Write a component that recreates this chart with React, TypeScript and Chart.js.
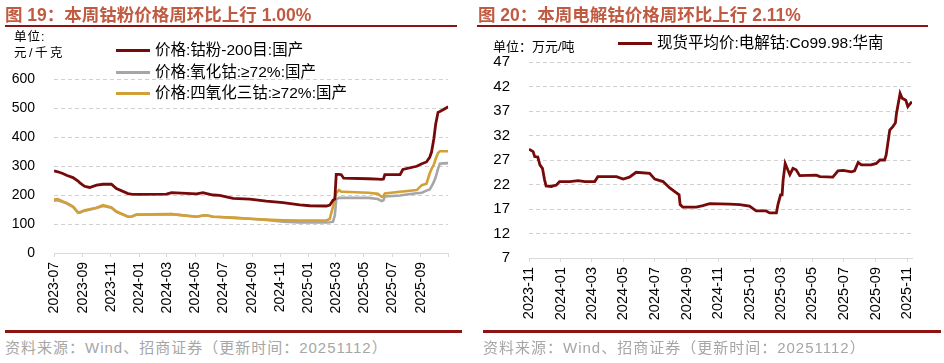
import React, { useEffect, useRef } from "react";
import { Chart, registerables } from "chart.js";
Chart.register(...registerables);

// ---------- Data: left chart (元/千克) ----------
const leftDates = [
  "2023-07-01","2023-07-09","2023-07-20","2023-07-28","2023-08-11","2023-08-22","2023-08-26","2023-09-05","2023-09-16","2023-10-01",
  "2023-10-15","2023-11-02","2023-11-13","2023-12-08","2023-12-15","2023-12-26","2024-02-29","2024-03-11","2024-05-04","2024-05-18",
  "2024-05-26","2024-06-09","2024-06-23","2024-07-22","2024-08-27","2024-10-02","2024-11-07","2024-12-13","2025-01-04","2025-02-09",
  "2025-02-16","2025-02-23","2025-02-27","2025-03-02","2025-03-08","2025-03-13","2025-03-18","2025-05-11","2025-05-31","2025-06-08",
  "2025-06-12","2025-06-15","2025-07-18","2025-07-24","2025-08-23","2025-09-03","2025-09-13","2025-09-20","2025-09-24","2025-09-29",
  "2025-10-03","2025-10-08","2025-10-12","2025-10-19","2025-10-30",
];
const cobaltPowder = [
  283,280,274,268,260,248,242,230,226,234,
  237,237,222,205,203,202,203,208,204,208,
  205,200,199,188,186,179,174,166,163,162,
  165,182,186,271,271,270,258,256,255,254,
  255,270,270,288,299,308,314,330,348,394,
  445,485,488,494,504,
];
const cobaltOxide = [
  180,182,176,171,159,140,139,146,149,155,
  162,156,142,125,125,132,133,134,125,129,
  130,125,124,121,118,114,108,105,105,105,
  106,108,130,185,190,190,190,190,186,179,
  182,195,198,200,206,208,215,219,230,245,
  262,290,308,309,310,
];
const cobaltTetroxide = [
  184,186,178,173,160,139,141,147,151,156,
  165,157,143,125,125,133,134,134,125,129,
  130,125,124,122,118,115,113,112,112,112,
  118,160,190,207,217,211,211,208,204,194,
  196,205,211,212,217,234,239,274,290,305,
  325,345,351,351,351,
];
const leftTickMonths = ["2023-07","2023-09","2023-11","2024-01","2024-03","2024-05","2024-07","2024-09","2024-11","2025-01","2025-03","2025-05","2025-07","2025-09"];
const leftSeriesNames = ["价格:钴粉-200目:国产", "价格:氧化钴:≥72%:国产", "价格:四氧化三钴:≥72%:国产"];

// ---------- Data: right chart (万元/吨) ----------
const rightDates = [
  "2023-11-01","2023-11-09","2023-11-12","2023-11-18","2023-11-22","2023-11-27","2023-12-01","2023-12-04","2023-12-14","2023-12-24",
  "2023-12-30","2024-01-19","2024-02-04","2024-02-17","2024-03-07","2024-03-13","2024-04-18","2024-05-01","2024-05-13","2024-05-26",
  "2024-06-21","2024-07-01","2024-07-17","2024-07-30","2024-08-08","2024-08-17","2024-08-19","2024-08-24","2024-09-19","2024-10-02",
  "2024-10-15","2024-11-23","2024-12-12","2024-12-31","2025-01-13","2025-02-01","2025-02-08","2025-02-21","2025-02-24","2025-03-01",
  "2025-03-04","2025-03-06","2025-03-10","2025-03-19","2025-03-25","2025-03-31","2025-04-07","2025-05-09","2025-05-16","2025-06-10",
  "2025-06-20","2025-06-30","2025-07-16","2025-07-22","2025-07-29","2025-08-04","2025-08-23","2025-09-02","2025-09-09","2025-09-18",
  "2025-09-21","2025-09-28","2025-10-04","2025-10-09","2025-10-11","2025-10-18","2025-10-22","2025-10-29","2025-11-02","2025-11-05",
  "2025-11-10",
];
const electrolyticCobalt = [
  29.2,28.7,27.7,27.6,26.0,25.3,23.0,21.7,21.6,21.9,
  22.6,22.6,22.8,22.6,22.6,23.6,23.6,23.1,23.5,24.5,
  24.3,23.1,22.6,21.3,20.6,19.9,17.9,17.4,17.4,17.7,
  18.1,18.0,17.9,17.6,16.6,16.6,16.2,16.2,17.9,19.9,
  19.9,22.9,26.3,24.0,25.3,25.0,23.8,23.9,23.6,23.5,
  24.8,24.9,24.6,24.8,26.5,26.0,26.0,26.3,27.0,27.0,
  28.0,33.1,33.8,34.6,36.5,40.6,39.6,39.2,37.9,38.3,
  38.9,
];
const rightTickMonths = ["2023-11","2024-01","2024-03","2024-05","2024-07","2024-09","2024-11","2025-01","2025-03","2025-05","2025-07","2025-09","2025-11"];
const rightSeriesName = "现货平均价:电解钴:Co99.98:华南";

const DARK_RED = "#760a0a";
const GRAY = "#a6a6a6";
const GOLD = "#d3a038";
const TITLE_COLOR = "#c05a40";
const RULE_COLOR = "#8c1414";
const FONT = '"Liberation Sans", Arial, "Noto Sans CJK SC", sans-serif';

function dayNum(s: string): number {
  const [y, m, d] = s.split("-").map(Number);
  return Date.UTC(y, m - 1, d || 1) / 86400000;
}

type Series = { data: number[]; color: string; width: number; order: number };
type Spec = {
  dates: string[];
  series: Series[];
  xMin: string;
  xMax: string;
  tickMonths: string[];
  endTick: boolean;
  yMin: number;
  yMax: number;
  yStep: number;
  yFontSize: number;
  xFontSize: number;
  yWidth: number;
  xHeight: number;
  padTop: number;
  padRight: number;
};

function buildConfig(s: Spec): any {
  const xs = s.dates.map(dayNum);
  const labelMap = new Map<number, string>();
  s.tickMonths.forEach((m) => labelMap.set(dayNum(m), m));
  const tickVals = s.tickMonths.map(dayNum);
  if (s.endTick) tickVals.push(dayNum(s.xMax));
  return {
    type: "line",
    data: {
      datasets: s.series.map((ser) => ({
        data: xs.map((x, i) => ({ x, y: ser.data[i] })),
        borderColor: ser.color,
        borderWidth: ser.width,
        pointRadius: 0,
        fill: false,
        tension: 0,
        order: ser.order,
      })),
    },
    options: {
      responsive: false,
      animation: false,
      devicePixelRatio: 1,
      layout: { padding: { top: s.padTop, right: s.padRight, left: 0, bottom: 0 } },
      plugins: { legend: { display: false }, tooltip: { enabled: false }, title: { display: false } },
      scales: {
        x: {
          type: "linear",
          min: dayNum(s.xMin),
          max: dayNum(s.xMax),
          afterBuildTicks: (scale: any) => {
            scale.ticks = tickVals.map((v) => ({ value: v }));
          },
          afterFit: (scale: any) => {
            scale.height = s.xHeight;
          },
          ticks: {
            autoSkip: false,
            minRotation: 90,
            maxRotation: 90,
            padding: 5,
            color: "#000",
            font: { size: s.xFontSize, family: FONT },
            callback: (v: number) => labelMap.get(v) ?? "",
          },
          grid: { drawOnChartArea: false, drawTicks: true, tickLength: 4, color: "#d9d9d9" },
          border: { display: true, color: "#d9d9d9", width: 1 },
        },
        y: {
          type: "linear",
          min: s.yMin,
          max: s.yMax,
          afterFit: (scale: any) => {
            scale.width = s.yWidth;
          },
          ticks: {
            stepSize: s.yStep,
            padding: 19,
            color: "#000",
            font: { size: s.yFontSize, family: FONT },
          },
          grid: {
            drawTicks: false,
            lineWidth: 1,
            color: (ctx: any) => (ctx.tick && ctx.tick.value === s.yMin ? "rgba(0,0,0,0)" : "#d0d0d0"),
          },
          border: { display: false, dash: [4, 3] },
        },
      },
    },
  };
}

function ChartCanvas({ spec, left, top, width, height }: { spec: Spec; left: number; top: number; width: number; height: number }) {
  const ref = useRef<HTMLCanvasElement | null>(null);
  useEffect(() => {
    if (!ref.current) return;
    const chart = new Chart(ref.current, buildConfig(spec));
    return () => chart.destroy();
  }, []);
  return (
    <canvas
      ref={ref}
      width={width}
      height={height}
      style={{ position: "absolute", left, top, width, height }}
    />
  );
}

const leftSpec: Spec = {
  dates: leftDates,
  series: [
    { data: cobaltPowder, color: DARK_RED, width: 2.8, order: 1 },
    { data: cobaltOxide, color: GRAY, width: 2.6, order: 3 },
    { data: cobaltTetroxide, color: GOLD, width: 2.6, order: 2 },
  ],
  xMin: "2023-07-01",
  xMax: "2025-10-30",
  tickMonths: leftTickMonths,
  endTick: true,
  yMin: 0,
  yMax: 600,
  yStep: 100,
  yFontSize: 14,
  xFontSize: 14,
  yWidth: 54,
  xHeight: 77,
  padTop: 79,
  padRight: 21,
};

const rightSpec: Spec = {
  dates: rightDates,
  series: [{ data: electrolyticCobalt, color: DARK_RED, width: 2.8, order: 1 }],
  xMin: "2023-11-01",
  xMax: "2025-11-10",
  tickMonths: rightTickMonths,
  endTick: false,
  yMin: 7,
  yMax: 47,
  yStep: 5,
  yFontSize: 15,
  xFontSize: 14.5,
  yWidth: 59,
  xHeight: 77,
  padTop: 62,
  padRight: 32,
};

const abs = (l: number, t: number, extra: any = {}) => ({ position: "absolute" as const, left: l, top: t, ...extra });

function LegendRow({ l, t, color, text }: { l: number; t: number; color: string; text: string }) {
  return (
    <>
      <div style={abs(l, t - 1.5, { width: 34, height: 3, background: color })} />
      <div style={abs(l + 39, t - 10, { fontSize: 15.5, lineHeight: "20px", whiteSpace: "nowrap", color: "#000" })}>{text}</div>
    </>
  );
}

const titleStyle = { fontSize: 17.5, fontWeight: 700, color: TITLE_COLOR, whiteSpace: "nowrap", lineHeight: "22px" };
const sourceStyle = { fontSize: 15, lineHeight: "20px", color: "#a6a6a6", whiteSpace: "nowrap", letterSpacing: 1 };

export default function App() {
  return (
    <div
      style={{
        position: "fixed",
        left: 0,
        top: 0,
        width: 944,
        height: 363,
        background: "#fff",
        overflow: "hidden",
        fontFamily: FONT,
      }}
    >
      <ChartCanvas spec={leftSpec} left={0} top={0} width={470} height={330} />
      <ChartCanvas spec={rightSpec} left={470} top={0} width={474} height={335} />

      {/* Left header */}
      <div style={abs(5, 4, titleStyle)}>图 19：本周钴粉价格周环比上行 1.00%</div>
      <div style={abs(5, 25, { width: 452, height: 2, background: RULE_COLOR })} />
      <div style={abs(14, 29, { fontSize: 12.5, lineHeight: "16px", color: "#000", letterSpacing: 1 })}>单位:</div>
      <div style={abs(14, 45, { fontSize: 12.5, lineHeight: "16px", color: "#000", letterSpacing: 2.5 })}>元/千克</div>
      <LegendRow l={116} t={50} color={DARK_RED} text={leftSeriesNames[0]} />
      <LegendRow l={116} t={72} color={GRAY} text={leftSeriesNames[1]} />
      <LegendRow l={116} t={93} color={GOLD} text={leftSeriesNames[2]} />

      {/* Right header */}
      <div style={abs(478, 4, titleStyle)}>图 20：本周电解钴价格周环比上行 2.11%</div>
      <div style={abs(477, 25, { width: 451, height: 2, background: RULE_COLOR })} />
      <div style={abs(493, 39, { fontSize: 13, lineHeight: "16px", color: "#000", whiteSpace: "nowrap" })}>单位：万元/吨</div>
      <LegendRow l={618} t={43} color={DARK_RED} text={rightSeriesName} />

      {/* Footers */}
      <div style={abs(5, 330, { width: 457, height: 3, background: RULE_COLOR })} />
      <div style={abs(483, 330, { width: 458, height: 3, background: RULE_COLOR })} />
      <div style={abs(5, 338, sourceStyle)}>资料来源：Wind、招商证券（更新时间：20251112）</div>
      <div style={abs(483, 338, sourceStyle)}>资料来源：Wind、招商证券（更新时间：20251112）</div>
    </div>
  );
}
